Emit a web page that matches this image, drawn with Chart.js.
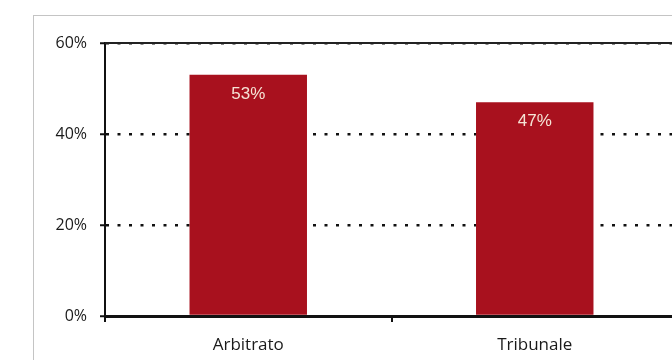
<!DOCTYPE html>
<html>
<head>
<meta charset="utf-8">
<script src="https://cdn.jsdelivr.net/npm/chart.js@4/dist/chart.umd.min.js"></script>
<style>
  html, body { margin: 0; padding: 0; background: #fff; overflow: hidden; }
  #wrap { position: relative; width: 672px; height: 360px; overflow: hidden; }
  #frame { position: absolute; left: 33px; top: 15px; width: 700px; height: 400px; border: 1px solid #c4c4c4; box-sizing: border-box; }
  #box { position: absolute; left: 0; top: 0; width: 700px; height: 360px; }
</style>
</head>
<body>
<div id="wrap">
  <div id="frame"></div>
  <div id="box"><canvas id="c" width="700" height="360"></canvas></div>
</div>
<script>
// Quota di controversie per sede
const categories = ['Arbitrato', 'Tribunale'];
const shares = [53, 47];
const yTicks = [0, 20, 40, 60];

const barColor = '#a8111e';
const labelFont = '"Open Sans", "Liberation Sans", sans-serif';

// Value labels inside the top of each bar
const barLabels = {
  id: 'barLabels',
  afterDatasetsDraw(chart) {
    const ctx = chart.ctx;
    const meta = chart.getDatasetMeta(0);
    ctx.save();
    ctx.fillStyle = '#f6e4d6';
    ctx.font = '17px "Liberation Sans", Arial, sans-serif';
    ctx.textAlign = 'center';
    ctx.textBaseline = 'middle';
    meta.data.forEach((bar, i) => {
      ctx.fillText(shares[i] + '%', bar.x, bar.y + 19);
    });
    ctx.restore();
  }
};

// Solid top edge of the plot area
const topEdge = {
  id: 'topEdge',
  afterDraw(chart) {
    const { ctx, chartArea } = chart;
    ctx.save();
    ctx.strokeStyle = '#222';
    ctx.lineWidth = 2;
    ctx.beginPath();
    ctx.moveTo(chartArea.left, chartArea.top);
    ctx.lineTo(chartArea.right, chartArea.top);
    ctx.stroke();
    ctx.restore();
  }
};

new Chart(document.getElementById('c'), {
  type: 'bar',
  data: {
    labels: categories,
    datasets: [{
      data: shares,
      backgroundColor: barColor,
      borderWidth: 0,
      categoryPercentage: 1,
      barPercentage: 0.41
    }]
  },
  options: {
    responsive: false,
    animation: false,
    events: [],
    layout: { padding: { left: 0, top: 43, right: 22, bottom: 0 } },
    plugins: { legend: { display: false }, tooltip: { enabled: false } },
    scales: {
      x: {
        afterFit(s) { s.height = 44; },
        border: { color: '#111', width: 3 },
        grid: { drawOnChartArea: false, drawTicks: true, tickLength: 6, color: '#111', lineWidth: 2 },
        ticks: { color: '#1a1a1a', font: { family: labelFont, size: 17 }, padding: 13 }
      },
      y: {
        min: 0,
        max: 60,
        afterFit(s) { s.width = 105; },
        afterBuildTicks(s) { s.ticks = yTicks.map(v => ({ value: v })); },
        border: { color: '#111', width: 2, dash: [3, 8.5] },
        grid: {
          color: '#111',
          lineWidth: 2.5,
          tickLength: 5,
          tickColor: '#111',
          tickBorderDash: [],
          tickWidth: 2
        },
        ticks: {
          color: '#1a1a1a',
          font: { family: labelFont, size: 16 },
          padding: 13,
          callback: v => v + '%'
        }
      }
    }
  },
  plugins: [barLabels, topEdge]
});
</script>
</body>
</html>
